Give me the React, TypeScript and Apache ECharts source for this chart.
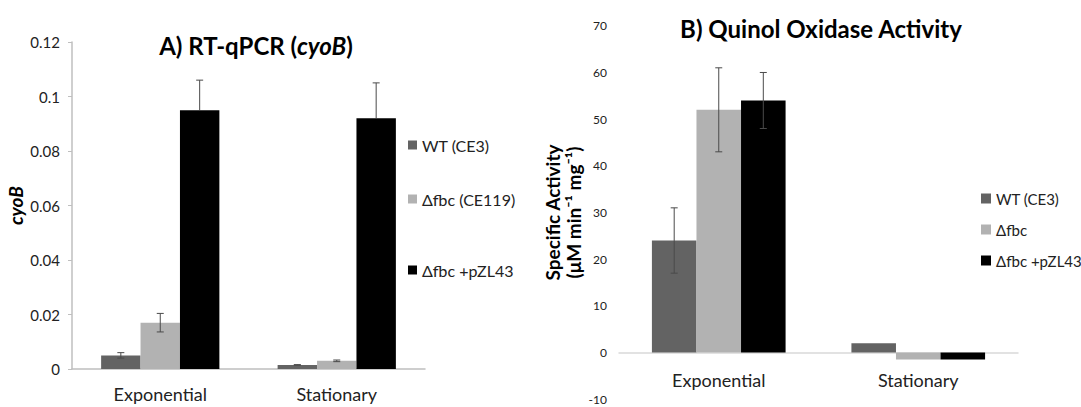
import React, { useEffect, useRef } from "react";
import * as echarts from "echarts";

// ---------- data ----------
const categories = ["Exponential", "Stationary"];

// Chart A: RT-qPCR (cyoB)
const aNames = ["WT (CE3)", "Δfbc (CE119)", "Δfbc +pZL43"];
const aWT = [0.005, 0.0015];
const aFbc = [0.017, 0.003];
const aPZL = [0.095, 0.092];
const aErrPlusWT = [0.001, 0.0001];
const aErrPlusFbc = [0.0034, 0.0003];
const aErrPlusPZL = [0.011, 0.013];
const aErrMinusWT = [0.001, 0.0001];
const aErrMinusFbc = [0.0034, 0.0003];
const aErrMinusPZL = [0, 0];
const aTicks = { min: 0, max: 0.12, interval: 0.02 };

// Chart B: Quinol Oxidase Activity
const bNames = ["WT (CE3)", "Δfbc", "Δfbc +pZL43"];
const bWT = [24, 2];
const bFbc = [52, -1.5];
const bPZL = [54, -1.5];
const bErrWT = [7, 0];
const bErrFbc = [9, 0];
const bErrPZL = [6, 0];
const bTicks = { min: -10, max: 70, interval: 10 };

const COLORS = ["#636363", "#b2b2b2", "#000000"];
const FONT = "Lato, 'Open Sans', sans-serif";
const GAP = 0.33;
const BAR_FRAC = (1 - GAP) / 3;

function buildErr(values: number[][], plus: number[][], minus: number[][]) {
  const out: number[][] = [];
  values.forEach((vals, s) => {
    vals.forEach((v, c) => {
      const p = plus[s][c];
      const m = minus[s][c];
      if (p > 0 || m > 0) out.push([c, s, v - m, v + p, m > 0 ? 1 : 0]);
    });
  });
  return out;
}

const renderErr = (params: any, api: any) => {
  const cat = api.value(0);
  const s = api.value(1);
  const lo = api.value(2);
  const hi = api.value(3);
  const showLo = api.value(4);
  const band = api.size([1, 0])[0];
  const pLo = api.coord([cat, lo]);
  const pHi = api.coord([cat, hi]);
  const x = pLo[0] + (s - 1) * BAR_FRAC * band;
  const style = { stroke: "#4a4a4a", lineWidth: 1 };
  const cw = 3.5;
  const children: any[] = [
    { type: "line", shape: { x1: x, y1: pLo[1], x2: x, y2: pHi[1] }, style },
    { type: "line", shape: { x1: x - cw, y1: pHi[1], x2: x + cw, y2: pHi[1] }, style },
  ];
  if (showLo) {
    children.push({ type: "line", shape: { x1: x - cw, y1: pLo[1], x2: x + cw, y2: pLo[1] }, style });
  }
  return { type: "group", children };
};

export default function App() {
  const ref = useRef<HTMLDivElement>(null);
  useEffect(() => {
    document.body.style.margin = "0";
    if (!ref.current) return;
    const chart = echarts.init(ref.current, undefined, { renderer: "svg" });

    const aVals = [aWT, aFbc, aPZL];
    const bVals = [bWT, bFbc, bPZL];
    const aErr = buildErr(aVals, [aErrPlusWT, aErrPlusFbc, aErrPlusPZL], [aErrMinusWT, aErrMinusFbc, aErrMinusPZL]);
    const bErr = buildErr(bVals, [bErrWT, bErrFbc, bErrPZL], [bErrWT, bErrFbc, bErrPZL]);

    const barSeries = (names: string[], vals: number[][], axis: number) =>
      names.map((n, i) => ({
        type: "bar",
        name: n,
        xAxisIndex: axis,
        yAxisIndex: axis,
        data: vals[i],
        barGap: "0%",
        barCategoryGap: GAP * 100 + "%",
        itemStyle: { color: COLORS[i] },
      }));

    const legendItem = (name: string, left: number, top: number, size: number, fs: number) => ({
      data: [name],
      left,
      top,
      orient: "vertical",
      itemWidth: size,
      itemHeight: size,
      icon: "rect",
      selectedMode: false,
      padding: 0,
      textStyle: { fontFamily: FONT, fontSize: fs, color: "#222" },
    });

    chart.setOption({
      animation: false,
      textStyle: { fontFamily: FONT },
      title: [
        {
          text: "{b|A) RT-qPCR (}{i|cyoB}{b|)}",
          left: 251,
          top: 28,
          textAlign: "center",
          textStyle: {
            rich: {
              b: { fontFamily: FONT, fontWeight: "bold", fontSize: 24, color: "#000" },
              i: { fontFamily: FONT, fontWeight: "bold", fontStyle: "italic", fontSize: 24, color: "#000" },
            },
          },
        },
        {
          text: "B) Quinol Oxidase Activity",
          left: 816,
          top: 11,
          textAlign: "center",
          textStyle: { fontFamily: FONT, fontWeight: "bold", fontSize: 24, color: "#000" },
        },
      ],
      legend: [
        legendItem(aNames[0], 408, 137, 9, 16),
        legendItem(aNames[1], 408, 191, 9, 16),
        legendItem(aNames[2], 408, 262, 9, 16),
        legendItem(bNames[0], 981, 191, 10, 15),
        legendItem(bNames[1], 981, 222, 10, 15),
        legendItem(bNames[2], 981, 253, 10, 15),
      ],
      grid: [
        { left: 72, top: 42, width: 353, height: 327, outerBoundsMode: "none" },
        { left: 619, top: 25.8, width: 399, height: 373.4, outerBoundsMode: "none" },
      ],
      xAxis: [
        {
          type: "category",
          gridIndex: 0,
          data: categories,
          axisLine: { lineStyle: { color: "#bfbfbf", width: 1.5 } },
          axisTick: { show: false },
          axisLabel: { fontFamily: FONT, fontSize: 18, color: "#222", margin: 16 },
        },
        {
          type: "category",
          gridIndex: 1,
          data: categories,
          axisLine: { onZero: true, lineStyle: { color: "#d9d9d9", width: 1.5 } },
          axisTick: { show: false },
          axisLabel: { fontFamily: FONT, fontSize: 18, color: "#222", margin: -28 },
        },
      ],
      yAxis: [
        {
          type: "value",
          gridIndex: 0,
          min: aTicks.min,
          max: aTicks.max,
          interval: aTicks.interval,
          name: "cyoB",
          nameLocation: "middle",
          nameRotate: 90,
          nameGap: 47,
          nameTextStyle: { fontFamily: FONT, fontWeight: "bold", fontStyle: "italic", fontSize: 19, color: "#000" },
          axisLine: { show: true, lineStyle: { color: "#bfbfbf", width: 1.5 } },
          axisTick: { show: true, length: 4, lineStyle: { color: "#bfbfbf" } },
          splitLine: { show: false },
          axisLabel: { fontFamily: FONT, fontSize: 15, color: "#222", margin: 12 },
        },
        {
          type: "value",
          gridIndex: 1,
          min: bTicks.min,
          max: bTicks.max,
          interval: bTicks.interval,
          name: "Specific Activity\n(μM min⁻¹ mg⁻¹)",
          nameLocation: "middle",
          nameRotate: 90,
          nameGap: 35,
          nameTextStyle: { fontFamily: FONT, fontWeight: "bold", fontSize: 19, color: "#000", lineHeight: 21 },
          axisLine: { show: false },
          axisTick: { show: false },
          splitLine: { show: false },
          axisLabel: { fontFamily: FONT, fontSize: 12, color: "#222", margin: 12 },
        },
      ],
      series: [
        ...barSeries(aNames, aVals, 0),
        {
          type: "custom",
          xAxisIndex: 0,
          yAxisIndex: 0,
          renderItem: renderErr,
          encode: { x: 0, y: [2, 3] },
          data: aErr,
          z: 10,
        },
        ...barSeries(bNames, bVals, 1),
        {
          type: "custom",
          xAxisIndex: 1,
          yAxisIndex: 1,
          renderItem: renderErr,
          encode: { x: 0, y: [2, 3] },
          data: bErr,
          z: 10,
        },
      ],
    });
    return () => chart.dispose();
  }, []);
  return <div ref={ref} style={{ width: 1081, height: 407 }} />;
}
